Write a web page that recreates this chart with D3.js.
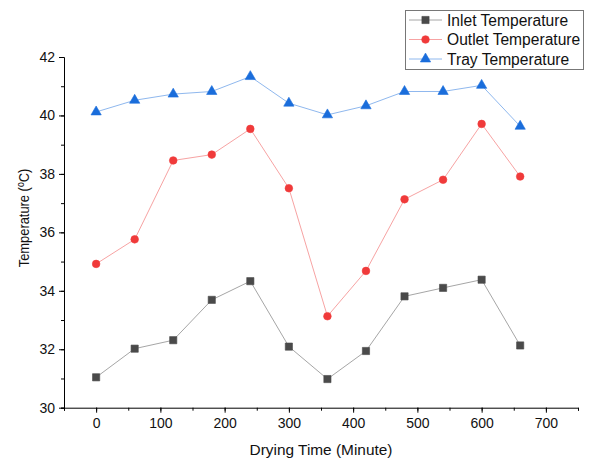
<!DOCTYPE html>
<html>
<head>
<meta charset="utf-8">
<script src="https://cdn.jsdelivr.net/npm/d3@7"></script>
<style>
  body { margin: 0; background: #fff; }
  svg text { font-family: "Liberation Sans", Arial, sans-serif; }
</style>
</head>
<body>
<svg id="chart" width="590" height="460"></svg>
<script>
// data
var times = [0, 60, 120, 180, 240, 300, 360, 420, 480, 540, 600, 660]
var inletTemp  = [31.04, 32.02, 32.31, 33.69, 34.33, 32.09, 30.98, 31.94, 33.81, 34.10, 34.38, 32.13]
var outletTemp = [34.92, 35.76, 38.46, 38.66, 39.54, 37.51, 33.13, 34.68, 37.13, 37.80, 39.71, 37.91]
var trayTemp   = [40.12, 40.52, 40.73, 40.82, 41.33, 40.42, 40.02, 40.33, 40.82, 40.82, 41.03, 39.63]
var xTicks = [0, 100, 200, 300, 400, 500, 600, 700]
var yTicks = [30, 32, 34, 36, 38, 40, 42]

var series = [
    {name: "Inlet Temperature",  values: inletTemp,  line: "#a6a6a6", fill: "#4a4a4a", shape: "square"},
    {name: "Outlet Temperature", values: outletTemp, line: "#f7a3a3", fill: "#f03a3a", shape: "circle"},
    {name: "Tray Temperature",   values: trayTemp,   line: "#8fb8ee", fill: "#1a6ddb", shape: "triangle"}
]

var svg = d3.select("#chart")
var plotLeft = 64, plotRight = 578, plotTop = 57, plotBottom = 407.7

var xScale = d3.scaleLinear().domain([-50, 750]).range([plotLeft, plotRight])
var yScale = d3.scaleLinear().domain([30, 42]).range([plotBottom, plotTop])

///////// axes
var xAxis = svg.append("g").attr("transform", "translate(0," + plotBottom + ")")
xAxis.call(d3.axisBottom(xScale).tickValues(d3.range(-50, 751, 50)).tickSize(3).tickFormat(""))
xAxis.append("g").call(d3.axisBottom(xScale).tickValues(xTicks).tickSize(5).tickPadding(5))
xAxis.selectAll("text").style("font-size", "14px").attr("fill", "#111")
xAxis.selectAll(".domain").filter(function(d, i) { return i > 0 }).remove()

var yAxis = svg.append("g").attr("transform", "translate(" + plotLeft + ",0)")
yAxis.call(d3.axisLeft(yScale).tickValues(d3.range(30, 42.1, 1)).tickSize(3).tickFormat(""))
yAxis.append("g").call(d3.axisLeft(yScale).tickValues(yTicks).tickSize(5).tickPadding(4))
yAxis.selectAll("text").style("font-size", "14px").attr("fill", "#111")
yAxis.selectAll(".domain").filter(function(d, i) { return i > 0 }).remove()

// axis titles
svg.append("text")
    .attr("x", 321).attr("y", 455)
    .attr("text-anchor", "middle")
    .style("font-size", "15.4px").attr("fill", "#111")
    .text("Drying Time (Minute)")

var yTitle = svg.append("text")
    .attr("transform", "translate(29,218) rotate(-90) scale(0.86,1)")
    .attr("text-anchor", "middle")
    .style("font-size", "15px").attr("fill", "#111")
yTitle.append("tspan").text("Temperature (")
yTitle.append("tspan").attr("dy", -5).style("font-size", "10px").text("o")
yTitle.append("tspan").attr("dy", 5).text("C)")

///////// symbols
var symbolType = {square: d3.symbolSquare, circle: d3.symbolCircle, triangle: d3.symbolTriangle}
var symbolSize = {square: 52, circle: 46, triangle: 46}

var line = d3.line()
    .x(function(d) { return xScale(d[0]) })
    .y(function(d) { return yScale(d[1]) })

series.forEach(function(s) {
    var pts = times.map(function(t, i) { return [t, s.values[i]] })
    svg.append("path")
        .attr("d", line(pts))
        .attr("fill", "none")
        .attr("stroke", s.line)
        .attr("stroke-width", 1)
    svg.append("g").selectAll("path")
        .data(pts)
        .enter()
        .append("path")
        .attr("transform", function(d) { return "translate(" + xScale(d[0]) + "," + yScale(d[1]) + ")" })
        .attr("d", d3.symbol().type(symbolType[s.shape]).size(symbolSize[s.shape]))
        .attr("fill", s.fill)
        .attr("stroke", s.fill)
        .attr("stroke-width", 0.6)
})

///////// legend
var legend = svg.append("g")
legend.append("rect")
    .attr("x", 405.5).attr("y", 10.5)
    .attr("width", 178).attr("height", 59)
    .attr("fill", "#fff")
    .attr("stroke", "#777")
    .attr("stroke-width", 1)

series.forEach(function(s, i) {
    var y = 20 + i * 19.5
    legend.append("line")
        .attr("x1", 409).attr("x2", 442)
        .attr("y1", y).attr("y2", y)
        .attr("stroke", s.line).attr("stroke-width", 1)
    legend.append("path")
        .attr("transform", "translate(425.5," + y + ")")
        .attr("d", d3.symbol().type(symbolType[s.shape]).size(symbolSize[s.shape]))
        .attr("fill", s.fill)
        .attr("stroke", s.fill)
        .attr("stroke-width", 0.6)
    legend.append("text")
        .attr("x", 447).attr("y", y + 5.5)
        .style("font-size", "15.6px").attr("fill", "#111")
        .text(s.name)
})
</script>
</body>
</html>
